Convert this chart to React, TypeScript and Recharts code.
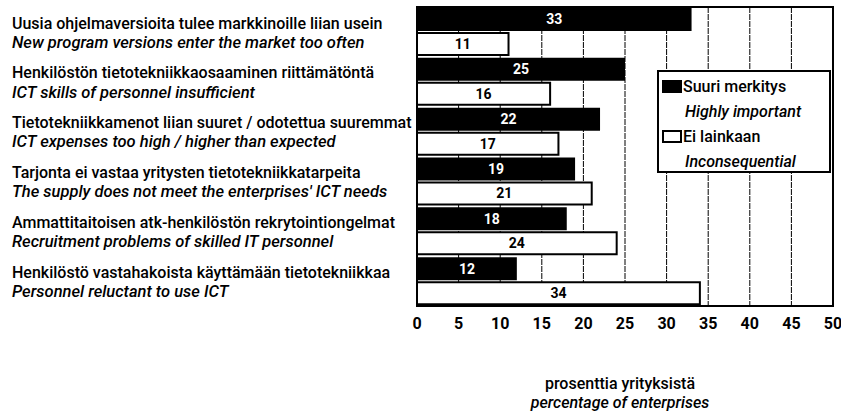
import React from "react";
import {
  BarChart,
  Bar,
  XAxis,
  YAxis,
  CartesianGrid,
  LabelList,
  ReferenceArea,
} from "recharts";

const categoriesFi = [
  "Uusia ohjelmaversioita tulee markkinoille liian usein",
  "Henkilöstön tietotekniikkaosaaminen riittämätöntä",
  "Tietotekniikkamenot liian suuret / odotettua suuremmat",
  "Tarjonta ei vastaa yritysten tietotekniikkatarpeita",
  "Ammattitaitoisen atk-henkilöstön rekrytointiongelmat",
  "Henkilöstö vastahakoista käyttämään tietotekniikkaa",
];
const categoriesEn = [
  "New program versions enter the market too often",
  "ICT skills of personnel insufficient",
  "ICT expenses too high / higher than expected",
  "The supply does not meet the enterprises' ICT needs",
  "Recruitment problems of skilled IT personnel",
  "Personnel reluctant to use ICT",
];
const highlyImportant = [33, 25, 22, 19, 18, 12];
const inconsequential = [11, 16, 17, 21, 24, 34];
const xTicks = [0, 5, 10, 15, 20, 25, 30, 35, 40, 45, 50];

const FONT = "Roboto, 'DejaVu Sans Condensed', Arial, sans-serif";

const data = categoriesFi.map((fi, i) => ({
  fi,
  en: categoriesEn[i],
  high: highlyImportant[i],
  none: inconsequential[i],
}));

function CategoryTick(props: any) {
  const { y, payload } = props;
  const row = data[payload.index] ?? data.find((d) => d.fi === payload.value);
  return (
    <g>
      <text x={12} y={y - 9} dy="0.35em" fontFamily={FONT} fontSize={16} fontWeight={500} fill="#000">
        {row?.fi}
      </text>
      <text x={12} y={y + 10} dy="0.35em" fontFamily={FONT} fontSize={16.5} fontWeight={500} fontStyle="italic" fill="#000">
        {row?.en}
      </text>
    </g>
  );
}

function AxisTitle(props: any) {
  const { viewBox } = props;
  const cx = viewBox.x + viewBox.width / 2 - 5;
  return (
    <g fontFamily={FONT} fontSize={16} fontWeight={500} fill="#000">
      <text x={cx} y={383} dy="0.35em" textAnchor="middle">
        prosenttia yrityksistä
      </text>
      <text x={cx} y={402} dy="0.35em" textAnchor="middle" fontStyle="italic">
        percentage of enterprises
      </text>
    </g>
  );
}

function LegendBox() {
  const line: React.CSSProperties = { height: 25, lineHeight: "25px", whiteSpace: "nowrap" };
  const swatch = (fill: string): React.CSSProperties => ({
    display: "inline-block",
    width: 20,
    height: 13,
    background: fill,
    border: "2px solid #000",
    boxSizing: "border-box",
    marginRight: 1,
    verticalAlign: "-1px",
  });
  return (
    <div
      style={{
        position: "absolute",
        left: 657,
        top: 70,
        width: 174,
        height: 103,
        boxSizing: "border-box",
        border: "2px solid #000",
        background: "#fff",
        padding: "2px 3px",
        fontFamily: FONT,
        fontSize: 16,
        fontWeight: 500,
        color: "#000",
      }}
    >
      <div style={line}>
        <span style={swatch("#000")} />
        Suuri merkitys
      </div>
      <div style={{ ...line, paddingLeft: 23, fontStyle: "italic" }}>Highly important</div>
      <div style={line}>
        <span style={swatch("#fff")} />
        Ei lainkaan
      </div>
      <div style={{ ...line, paddingLeft: 23, fontStyle: "italic" }}>Inconsequential</div>
    </div>
  );
}

export default function App() {
  return (
    <div style={{ position: "absolute", left: 0, top: 0, width: 841, height: 413, background: "#fff" }}>
      <BarChart
        width={841}
        height={413}
        data={data}
        layout="vertical"
        margin={{ top: 7, right: 8, left: 0, bottom: 77 }}
        barGap={2}
        barCategoryGap={4}
      >
        <CartesianGrid horizontal={false} stroke="#000" strokeWidth={1} strokeDasharray="6 1" />
        <XAxis
          type="number"
          domain={[0, 50]}
          ticks={xTicks}
          interval={0}
          axisLine={false}
          tickLine={false}
          tick={{ fontFamily: FONT, fontSize: 16, fontWeight: 700, fill: "#000" }}
          tickMargin={6}
          label={<AxisTitle />}
        />
        <YAxis
          type="category"
          dataKey="fi"
          width={417}
          axisLine={false}
          tickLine={false}
          tick={<CategoryTick />}
        />
        <ReferenceArea x1={0} x2={50} fill="none" stroke="#000" strokeWidth={2} ifOverflow="visible" />
        <Bar dataKey="high" fill="#000" barSize={23} isAnimationActive={false}>
          <LabelList
            dataKey="high"
            position="center"
            fill="#fff"
            fontFamily={FONT}
            fontSize={14}
            fontWeight={700}
          />
        </Bar>
        <Bar dataKey="none" fill="#fff" stroke="#000" strokeWidth={2} barSize={22} isAnimationActive={false}>
          <LabelList
            dataKey="none"
            position="center"
            fill="#000"
            fontFamily={FONT}
            fontSize={14}
            fontWeight={700}
          />
        </Bar>
      </BarChart>
      <LegendBox />
    </div>
  );
}
